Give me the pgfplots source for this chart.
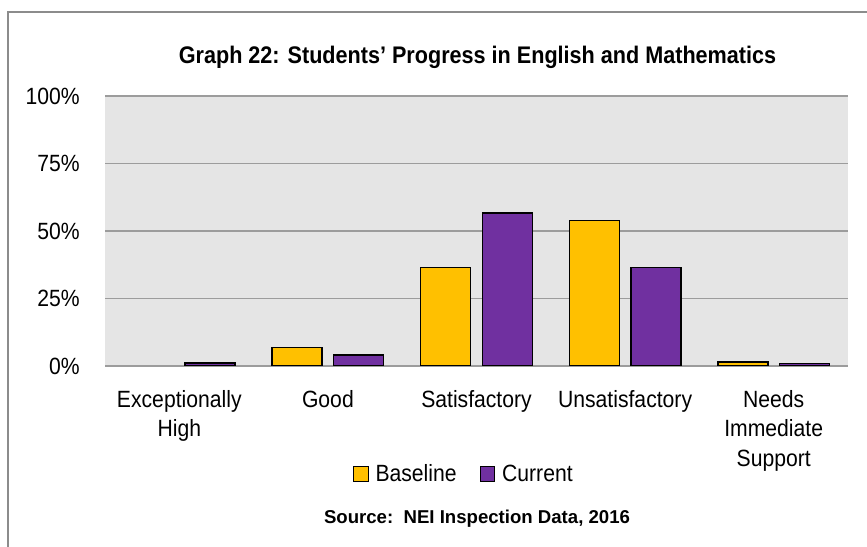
\documentclass[border=0pt]{standalone}
\usepackage{fontspec}
\setmainfont{Liberation Sans}[FakeStretch=0.9]
\newfontfamily\srcfont{Liberation Sans}
\usepackage{pgfplots}
\pgfplotsset{compat=1.18}
\definecolor{base}{HTML}{FFC000}
\definecolor{cur}{HTML}{7030A0}
\definecolor{gridc}{HTML}{9C9C9C}
\definecolor{framec}{HTML}{8C8C8C}
\begin{document}
\begin{tikzpicture}
\useasboundingbox (0,0) rectangle (867pt,546pt);
\draw[framec, line width=1.5pt] (8pt,-5pt) -- (8pt,534pt) -- (875pt,534pt);
\begin{axis}[
 at={(105pt,180pt)}, anchor=south west,
 scale only axis, width=743pt, height=270pt,
 ybar=11.6pt, bar width=50pt,
 xmin=-0.5, xmax=4.5, ymin=0, ymax=100,
 xtick={0,1,2,3,4},
 xticklabels={{\strut Exceptionally\\High},{\strut Good},{\strut Satisfactory},{\strut Unsatisfactory},{\strut Needs\\Immediate\\Support}},
 ytick={0,25,50,75,100},
 yticklabel={\pgfmathprintnumber{\tick}\%},
 /pgf/number format/assume math mode=true,
 major tick length=0pt,
 axis line style={draw=none},
 ymajorgrids, grid style={gridc, line width=1.5pt},
 axis background/.style={fill=black!10},
 tick label style={font=\fontsize{23.5}{29.5}\selectfont},
 xticklabel style={anchor=north, align=center, inner sep=0pt, yshift=-20.3pt},
 yticklabel style={anchor=east, inner sep=0pt, xshift=-25pt},
 legend columns=2,
 legend style={draw=none, fill=none, inner sep=0pt, outer sep=0pt,
   at={(axis description cs:0.3338,-0.4344)}, anchor=south west,
   font=\fontsize{23.5}{29.5}\selectfont, nodes={inner sep=0pt},
   /tikz/every odd column/.append style={column sep=7pt},
   /tikz/every even column/.append style={column sep=23pt}},
]
\addplot[fill=base, draw=black, line width=1.5pt,
  legend image code/.code={\draw[fill=base,draw=black,line width=1pt] (0pt,-7pt) rectangle (14.5pt,7.5pt);}]
  coordinates {(1,6.9) (2,36.5) (3,53.8) (4,1.5)};
\addlegendentry{Baseline}
\addplot[fill=cur, draw=black, line width=1.5pt,
  legend image code/.code={\draw[fill=cur,draw=black,line width=1pt] (0pt,-7pt) rectangle (14.5pt,7.5pt);}]
  coordinates {(0,1.1) (1,4.1) (2,56.7) (3,36.5) (4,0.9)};
\addlegendentry{Current}
\end{axis}
\node[anchor=base, font=\bfseries\fontsize{24}{28}\selectfont] at (477.5pt,482.7pt) {Graph 22: Students’ Progress in English and Mathematics};
\node[anchor=base, font=\srcfont\bfseries\fontsize{18.6}{22}\selectfont] at (477pt,23pt) {Source:\ \ NEI Inspection Data, 2016};
\end{tikzpicture}
\end{document}
